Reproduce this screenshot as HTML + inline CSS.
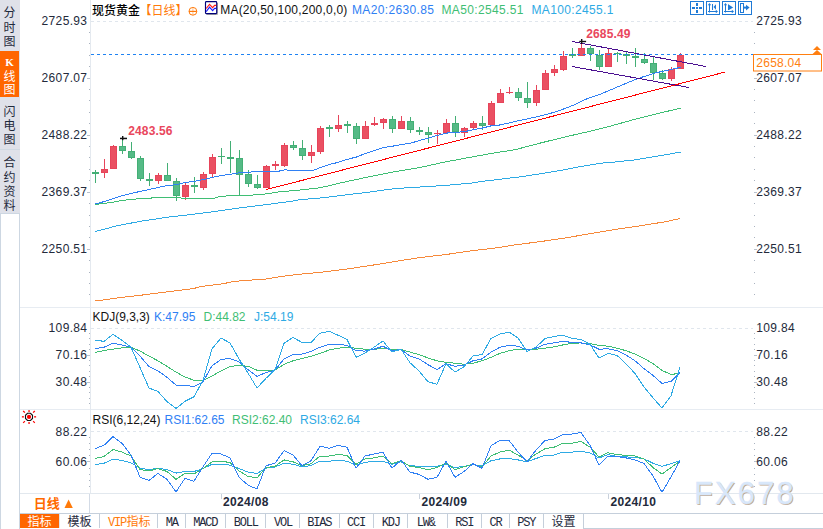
<!DOCTYPE html>
<html><head><meta charset="utf-8">
<style>
html,body{margin:0;padding:0;background:#fff;}
body{width:823px;height:529px;overflow:hidden;position:relative;}
svg{position:absolute;left:0;top:0;display:block;}
.cjk{font-family:"Liberation Sans","Noto Sans CJK SC",sans-serif;}
.mono{font-family:"Liberation Mono","Noto Sans CJK SC",monospace;}
</style></head><body>
<svg width="823" height="529" viewBox="0 0 823 529" font-family="Liberation Sans, Noto Sans CJK SC, sans-serif" font-size="12">
<!-- sidebar -->
<rect x="0" y="0" width="20" height="213" fill="#dfe1e9"/>
<rect x="0" y="51" width="19" height="46" fill="#ff6600"/>
<rect x="0" y="149" width="20" height="1" fill="#d0d9e2"/>
<rect x="0" y="213" width="20" height="1" fill="#cdd7e2"/>
<rect x="0" y="213" width="1" height="316" fill="#cdd7e2"/>
<rect x="19" y="213" width="1" height="316" fill="#cdd7e2"/>
<g class="cjk" font-size="12" fill="#1f2a3c" text-anchor="middle">
<text x="9.5" y="17.2">分</text><text x="9.5" y="31.8">时</text><text x="9.5" y="46.3">图</text>
<text x="9.5" y="65.6" fill="#fff" font-family="Liberation Serif" font-size="11" font-weight="bold">K</text><text x="9.5" y="80.6" fill="#fff">线</text><text x="9.5" y="94.3" fill="#fff">图</text>
<text x="9.5" y="115.5">闪</text><text x="9.5" y="129.5">电</text><text x="9.5" y="143.9">图</text>
<text x="9.5" y="167">合</text><text x="9.5" y="181.5">约</text><text x="9.5" y="195.8">资</text><text x="9.5" y="210">料</text>
</g>

<!-- panel frames -->
<rect x="20" y="307" width="803" height="1" fill="#e7ecf2"/>
<rect x="20" y="409" width="803" height="1" fill="#e7ecf2"/>
<rect x="90" y="0" width="1" height="493" fill="#e4e9ef"/>
<rect x="20" y="493" width="803" height="1" fill="#e2e8ee"/>

<!-- grid -->
<g stroke="#e0e6ed" stroke-width="1" stroke-dasharray="3,3">
<line x1="91" y1="21.5" x2="753" y2="21.5"/>
<line x1="91" y1="328.5" x2="753" y2="328.5"/>
<line x1="91" y1="431.5" x2="753" y2="431.5"/>
</g>

<!-- ticks -->
<g>
<rect x="89" y="32" width="1" height="1" fill="#aab3c0"/>
<rect x="754" y="32" width="1" height="1" fill="#aab3c0"/>
<rect x="89" y="43" width="1" height="1" fill="#aab3c0"/>
<rect x="754" y="43" width="1" height="1" fill="#aab3c0"/>
<rect x="89" y="55" width="1" height="1" fill="#aab3c0"/>
<rect x="754" y="55" width="1" height="1" fill="#aab3c0"/>
<rect x="89" y="66" width="1" height="1" fill="#aab3c0"/>
<rect x="754" y="66" width="1" height="1" fill="#aab3c0"/>
<rect x="87" y="78" width="3" height="1" fill="#b9c1cd"/>
<rect x="754" y="78" width="3" height="1" fill="#b9c1cd"/>
<rect x="89" y="89" width="1" height="1" fill="#aab3c0"/>
<rect x="754" y="89" width="1" height="1" fill="#aab3c0"/>
<rect x="89" y="100" width="1" height="1" fill="#aab3c0"/>
<rect x="754" y="100" width="1" height="1" fill="#aab3c0"/>
<rect x="89" y="112" width="1" height="1" fill="#aab3c0"/>
<rect x="754" y="112" width="1" height="1" fill="#aab3c0"/>
<rect x="89" y="123" width="1" height="1" fill="#aab3c0"/>
<rect x="754" y="123" width="1" height="1" fill="#aab3c0"/>
<rect x="87" y="135" width="3" height="1" fill="#b9c1cd"/>
<rect x="754" y="135" width="3" height="1" fill="#b9c1cd"/>
<rect x="89" y="146" width="1" height="1" fill="#aab3c0"/>
<rect x="754" y="146" width="1" height="1" fill="#aab3c0"/>
<rect x="89" y="157" width="1" height="1" fill="#aab3c0"/>
<rect x="754" y="157" width="1" height="1" fill="#aab3c0"/>
<rect x="89" y="169" width="1" height="1" fill="#aab3c0"/>
<rect x="754" y="169" width="1" height="1" fill="#aab3c0"/>
<rect x="89" y="180" width="1" height="1" fill="#aab3c0"/>
<rect x="754" y="180" width="1" height="1" fill="#aab3c0"/>
<rect x="87" y="192" width="3" height="1" fill="#b9c1cd"/>
<rect x="754" y="192" width="3" height="1" fill="#b9c1cd"/>
<rect x="89" y="203" width="1" height="1" fill="#aab3c0"/>
<rect x="754" y="203" width="1" height="1" fill="#aab3c0"/>
<rect x="89" y="215" width="1" height="1" fill="#aab3c0"/>
<rect x="754" y="215" width="1" height="1" fill="#aab3c0"/>
<rect x="89" y="226" width="1" height="1" fill="#aab3c0"/>
<rect x="754" y="226" width="1" height="1" fill="#aab3c0"/>
<rect x="89" y="237" width="1" height="1" fill="#aab3c0"/>
<rect x="754" y="237" width="1" height="1" fill="#aab3c0"/>
<rect x="87" y="249" width="3" height="1" fill="#b9c1cd"/>
<rect x="754" y="249" width="3" height="1" fill="#b9c1cd"/>
<rect x="89" y="260" width="1" height="1" fill="#aab3c0"/>
<rect x="754" y="260" width="1" height="1" fill="#aab3c0"/>
<rect x="89" y="272" width="1" height="1" fill="#aab3c0"/>
<rect x="754" y="272" width="1" height="1" fill="#aab3c0"/>
<rect x="89" y="283" width="1" height="1" fill="#aab3c0"/>
<rect x="754" y="283" width="1" height="1" fill="#aab3c0"/>
<rect x="89" y="294" width="1" height="1" fill="#aab3c0"/>
<rect x="754" y="294" width="1" height="1" fill="#aab3c0"/>
<rect x="89" y="333" width="1" height="1" fill="#aab3c0"/>
<rect x="754" y="333" width="1" height="1" fill="#aab3c0"/>
<rect x="89" y="338" width="1" height="1" fill="#aab3c0"/>
<rect x="754" y="338" width="1" height="1" fill="#aab3c0"/>
<rect x="89" y="344" width="1" height="1" fill="#aab3c0"/>
<rect x="754" y="344" width="1" height="1" fill="#aab3c0"/>
<rect x="89" y="349" width="1" height="1" fill="#aab3c0"/>
<rect x="754" y="349" width="1" height="1" fill="#aab3c0"/>
<rect x="87" y="355" width="3" height="1" fill="#b9c1cd"/>
<rect x="754" y="355" width="3" height="1" fill="#b9c1cd"/>
<rect x="89" y="360" width="1" height="1" fill="#aab3c0"/>
<rect x="754" y="360" width="1" height="1" fill="#aab3c0"/>
<rect x="89" y="365" width="1" height="1" fill="#aab3c0"/>
<rect x="754" y="365" width="1" height="1" fill="#aab3c0"/>
<rect x="89" y="371" width="1" height="1" fill="#aab3c0"/>
<rect x="754" y="371" width="1" height="1" fill="#aab3c0"/>
<rect x="89" y="376" width="1" height="1" fill="#aab3c0"/>
<rect x="754" y="376" width="1" height="1" fill="#aab3c0"/>
<rect x="87" y="382" width="3" height="1" fill="#b9c1cd"/>
<rect x="754" y="382" width="3" height="1" fill="#b9c1cd"/>
<rect x="89" y="387" width="1" height="1" fill="#aab3c0"/>
<rect x="754" y="387" width="1" height="1" fill="#aab3c0"/>
<rect x="89" y="392" width="1" height="1" fill="#aab3c0"/>
<rect x="754" y="392" width="1" height="1" fill="#aab3c0"/>
<rect x="89" y="398" width="1" height="1" fill="#aab3c0"/>
<rect x="754" y="398" width="1" height="1" fill="#aab3c0"/>
<rect x="89" y="403" width="1" height="1" fill="#aab3c0"/>
<rect x="754" y="403" width="1" height="1" fill="#aab3c0"/>
<rect x="89" y="437" width="1" height="1" fill="#aab3c0"/>
<rect x="754" y="437" width="1" height="1" fill="#aab3c0"/>
<rect x="89" y="443" width="1" height="1" fill="#aab3c0"/>
<rect x="754" y="443" width="1" height="1" fill="#aab3c0"/>
<rect x="89" y="449" width="1" height="1" fill="#aab3c0"/>
<rect x="754" y="449" width="1" height="1" fill="#aab3c0"/>
<rect x="89" y="455" width="1" height="1" fill="#aab3c0"/>
<rect x="754" y="455" width="1" height="1" fill="#aab3c0"/>
<rect x="87" y="461" width="3" height="1" fill="#b9c1cd"/>
<rect x="754" y="461" width="3" height="1" fill="#b9c1cd"/>
<rect x="89" y="468" width="1" height="1" fill="#aab3c0"/>
<rect x="754" y="468" width="1" height="1" fill="#aab3c0"/>
<rect x="89" y="474" width="1" height="1" fill="#aab3c0"/>
<rect x="754" y="474" width="1" height="1" fill="#aab3c0"/>
<rect x="89" y="480" width="1" height="1" fill="#aab3c0"/>
<rect x="754" y="480" width="1" height="1" fill="#aab3c0"/>
<rect x="89" y="486" width="1" height="1" fill="#aab3c0"/>
<rect x="754" y="486" width="1" height="1" fill="#aab3c0"/>
</g>
<g fill="#232a3b" font-size="12" letter-spacing="0.35">
<text x="87.4" y="25.3" text-anchor="end" fill="#232a3b">2725.93</text>
<text x="756.2" y="25.3" text-anchor="start" fill="#232a3b">2725.93</text>
<text x="87.4" y="82.3" text-anchor="end" fill="#232a3b">2607.07</text>
<text x="756.2" y="82.3" text-anchor="start" fill="#232a3b">2607.07</text>
<text x="87.4" y="139.3" text-anchor="end" fill="#232a3b">2488.22</text>
<text x="756.2" y="139.3" text-anchor="start" fill="#232a3b">2488.22</text>
<text x="87.4" y="196.3" text-anchor="end" fill="#232a3b">2369.37</text>
<text x="756.2" y="196.3" text-anchor="start" fill="#232a3b">2369.37</text>
<text x="87.4" y="253.3" text-anchor="end" fill="#232a3b">2250.51</text>
<text x="756.2" y="253.3" text-anchor="start" fill="#232a3b">2250.51</text>
<text x="87.4" y="332.3" text-anchor="end" fill="#232a3b">109.84</text>
<text x="756.2" y="332.3" text-anchor="start" fill="#232a3b">109.84</text>
<text x="87.4" y="359.3" text-anchor="end" fill="#232a3b">70.16</text>
<text x="756.2" y="359.3" text-anchor="start" fill="#232a3b">70.16</text>
<text x="87.4" y="386.3" text-anchor="end" fill="#232a3b">30.48</text>
<text x="756.2" y="386.3" text-anchor="start" fill="#232a3b">30.48</text>
<text x="87.4" y="435.8" text-anchor="end" fill="#232a3b">88.22</text>
<text x="756.2" y="435.8" text-anchor="start" fill="#232a3b">88.22</text>
<text x="87.4" y="466.3" text-anchor="end" fill="#232a3b">60.06</text>
<text x="756.2" y="466.3" text-anchor="start" fill="#232a3b">60.06</text>
</g>

<!-- candles -->
<g>
<rect x="95" y="170" width="1" height="13" fill="#43af75"/>
<rect x="92" y="172" width="7" height="2" fill="#43af75"/>
<rect x="104" y="159" width="1" height="19" fill="#e7445a"/>
<rect x="101.5" y="169.5" width="6" height="3" fill="#ea5062" stroke="#e7445a" stroke-width="1"/>
<rect x="113" y="145" width="1" height="24" fill="#e7445a"/>
<rect x="110.5" y="146.5" width="6" height="22" fill="#ea5062" stroke="#e7445a" stroke-width="1"/>
<rect x="122" y="139" width="1" height="15" fill="#43af75"/>
<rect x="119.5" y="146.5" width="6" height="4" fill="#55ba86" stroke="#43af75" stroke-width="1"/>
<rect x="131" y="142" width="1" height="17" fill="#43af75"/>
<rect x="128.5" y="151.5" width="6" height="6" fill="#55ba86" stroke="#43af75" stroke-width="1"/>
<rect x="140" y="156" width="1" height="25" fill="#43af75"/>
<rect x="137.5" y="158.5" width="6" height="20" fill="#55ba86" stroke="#43af75" stroke-width="1"/>
<rect x="149" y="173" width="1" height="13" fill="#43af75"/>
<rect x="146" y="179" width="7" height="2" fill="#43af75"/>
<rect x="158" y="173" width="1" height="11" fill="#e7445a"/>
<rect x="155.5" y="175.5" width="6" height="5" fill="#ea5062" stroke="#e7445a" stroke-width="1"/>
<rect x="167" y="163" width="1" height="18" fill="#43af75"/>
<rect x="164.5" y="175.5" width="6" height="5" fill="#55ba86" stroke="#43af75" stroke-width="1"/>
<rect x="176" y="178" width="1" height="23" fill="#43af75"/>
<rect x="173.5" y="181.5" width="6" height="14" fill="#55ba86" stroke="#43af75" stroke-width="1"/>
<rect x="185" y="183" width="1" height="17" fill="#e7445a"/>
<rect x="182.5" y="185.5" width="6" height="11" fill="#ea5062" stroke="#e7445a" stroke-width="1"/>
<rect x="194" y="177" width="1" height="16" fill="#43af75"/>
<rect x="191" y="185" width="7" height="2" fill="#43af75"/>
<rect x="203" y="172" width="1" height="18" fill="#e7445a"/>
<rect x="200.5" y="174.5" width="6" height="13" fill="#ea5062" stroke="#e7445a" stroke-width="1"/>
<rect x="212" y="154" width="1" height="23" fill="#e7445a"/>
<rect x="209.5" y="157.5" width="6" height="16" fill="#ea5062" stroke="#e7445a" stroke-width="1"/>
<rect x="221" y="148" width="1" height="16" fill="#43af75"/>
<rect x="218" y="156" width="7" height="1" fill="#43af75"/>
<rect x="230" y="141" width="1" height="32" fill="#43af75"/>
<rect x="227" y="157" width="7" height="2" fill="#43af75"/>
<rect x="239" y="150" width="1" height="45" fill="#43af75"/>
<rect x="236.5" y="158.5" width="6" height="16" fill="#55ba86" stroke="#43af75" stroke-width="1"/>
<rect x="248" y="170" width="1" height="17" fill="#43af75"/>
<rect x="245.5" y="174.5" width="6" height="9" fill="#55ba86" stroke="#43af75" stroke-width="1"/>
<rect x="257" y="175" width="1" height="14" fill="#43af75"/>
<rect x="254.5" y="184.5" width="6" height="3" fill="#55ba86" stroke="#43af75" stroke-width="1"/>
<rect x="266" y="165" width="1" height="23" fill="#e7445a"/>
<rect x="263.5" y="166.5" width="6" height="21" fill="#ea5062" stroke="#e7445a" stroke-width="1"/>
<rect x="275" y="161" width="1" height="9" fill="#e7445a"/>
<rect x="272" y="164" width="7" height="2" fill="#e7445a"/>
<rect x="284" y="143" width="1" height="24" fill="#e7445a"/>
<rect x="281.5" y="145.5" width="6" height="20" fill="#ea5062" stroke="#e7445a" stroke-width="1"/>
<rect x="293" y="141" width="1" height="9" fill="#43af75"/>
<rect x="290.5" y="145.5" width="6" height="2" fill="#55ba86" stroke="#43af75" stroke-width="1"/>
<rect x="302" y="140" width="1" height="20" fill="#43af75"/>
<rect x="299.5" y="148.5" width="6" height="7" fill="#55ba86" stroke="#43af75" stroke-width="1"/>
<rect x="311" y="145" width="1" height="18" fill="#e7445a"/>
<rect x="308.5" y="152.5" width="6" height="3" fill="#ea5062" stroke="#e7445a" stroke-width="1"/>
<rect x="320" y="126" width="1" height="28" fill="#e7445a"/>
<rect x="317.5" y="128.5" width="6" height="23" fill="#ea5062" stroke="#e7445a" stroke-width="1"/>
<rect x="329" y="125" width="1" height="12" fill="#43af75"/>
<rect x="326" y="127" width="7" height="2" fill="#43af75"/>
<rect x="338" y="115" width="1" height="17" fill="#e7445a"/>
<rect x="335.5" y="125.5" width="6" height="3" fill="#ea5062" stroke="#e7445a" stroke-width="1"/>
<rect x="347" y="121" width="1" height="12" fill="#43af75"/>
<rect x="344" y="124" width="7" height="2" fill="#43af75"/>
<rect x="356" y="123" width="1" height="21" fill="#43af75"/>
<rect x="353.5" y="126.5" width="6" height="12" fill="#55ba86" stroke="#43af75" stroke-width="1"/>
<rect x="365" y="121" width="1" height="18" fill="#e7445a"/>
<rect x="362.5" y="126.5" width="6" height="12" fill="#ea5062" stroke="#e7445a" stroke-width="1"/>
<rect x="374" y="117" width="1" height="9" fill="#e7445a"/>
<rect x="371" y="123" width="7" height="2" fill="#e7445a"/>
<rect x="383" y="118" width="1" height="11" fill="#e7445a"/>
<rect x="380.5" y="119.5" width="6" height="3" fill="#ea5062" stroke="#e7445a" stroke-width="1"/>
<rect x="392" y="116" width="1" height="17" fill="#43af75"/>
<rect x="389.5" y="119.5" width="6" height="9" fill="#55ba86" stroke="#43af75" stroke-width="1"/>
<rect x="401" y="116" width="1" height="13" fill="#e7445a"/>
<rect x="398.5" y="121.5" width="6" height="7" fill="#ea5062" stroke="#e7445a" stroke-width="1"/>
<rect x="410" y="117" width="1" height="16" fill="#43af75"/>
<rect x="407.5" y="121.5" width="6" height="8" fill="#55ba86" stroke="#43af75" stroke-width="1"/>
<rect x="419" y="127" width="1" height="8" fill="#43af75"/>
<rect x="416" y="130" width="7" height="2" fill="#43af75"/>
<rect x="428" y="127" width="1" height="16" fill="#43af75"/>
<rect x="425.5" y="132.5" width="6" height="2" fill="#55ba86" stroke="#43af75" stroke-width="1"/>
<rect x="437" y="130" width="1" height="14" fill="#e7445a"/>
<rect x="434" y="133" width="7" height="1" fill="#e7445a"/>
<rect x="446" y="119" width="1" height="14" fill="#e7445a"/>
<rect x="443.5" y="123.5" width="6" height="9" fill="#ea5062" stroke="#e7445a" stroke-width="1"/>
<rect x="455" y="116" width="1" height="21" fill="#43af75"/>
<rect x="452.5" y="123.5" width="6" height="8" fill="#55ba86" stroke="#43af75" stroke-width="1"/>
<rect x="464" y="127" width="1" height="10" fill="#e7445a"/>
<rect x="461.5" y="128.5" width="6" height="4" fill="#ea5062" stroke="#e7445a" stroke-width="1"/>
<rect x="473" y="121" width="1" height="8" fill="#e7445a"/>
<rect x="470.5" y="123.5" width="6" height="4" fill="#ea5062" stroke="#e7445a" stroke-width="1"/>
<rect x="482" y="116" width="1" height="14" fill="#43af75"/>
<rect x="479.5" y="123.5" width="6" height="2" fill="#55ba86" stroke="#43af75" stroke-width="1"/>
<rect x="491" y="101" width="1" height="24" fill="#e7445a"/>
<rect x="488.5" y="103.5" width="6" height="21" fill="#ea5062" stroke="#e7445a" stroke-width="1"/>
<rect x="500" y="89" width="1" height="14" fill="#e7445a"/>
<rect x="497.5" y="93.5" width="6" height="9" fill="#ea5062" stroke="#e7445a" stroke-width="1"/>
<rect x="509" y="87" width="1" height="7" fill="#e7445a"/>
<rect x="506" y="92" width="7" height="1" fill="#e7445a"/>
<rect x="518" y="88" width="1" height="13" fill="#43af75"/>
<rect x="515.5" y="92.5" width="6" height="5" fill="#55ba86" stroke="#43af75" stroke-width="1"/>
<rect x="527" y="82" width="1" height="26" fill="#43af75"/>
<rect x="524.5" y="98.5" width="6" height="4" fill="#55ba86" stroke="#43af75" stroke-width="1"/>
<rect x="536" y="85" width="1" height="21" fill="#e7445a"/>
<rect x="533.5" y="90.5" width="6" height="12" fill="#ea5062" stroke="#e7445a" stroke-width="1"/>
<rect x="545" y="70" width="1" height="20" fill="#e7445a"/>
<rect x="542.5" y="73.5" width="6" height="16" fill="#ea5062" stroke="#e7445a" stroke-width="1"/>
<rect x="554" y="65" width="1" height="11" fill="#e7445a"/>
<rect x="551.5" y="69.5" width="6" height="3" fill="#ea5062" stroke="#e7445a" stroke-width="1"/>
<rect x="563" y="51" width="1" height="20" fill="#e7445a"/>
<rect x="560.5" y="56.5" width="6" height="13" fill="#ea5062" stroke="#e7445a" stroke-width="1"/>
<rect x="572" y="48" width="1" height="10" fill="#43af75"/>
<rect x="569" y="54" width="7" height="2" fill="#43af75"/>
<rect x="581" y="41" width="1" height="15" fill="#e7445a"/>
<rect x="578.5" y="48.5" width="6" height="7" fill="#ea5062" stroke="#e7445a" stroke-width="1"/>
<rect x="590" y="46" width="1" height="15" fill="#43af75"/>
<rect x="587.5" y="48.5" width="6" height="5" fill="#55ba86" stroke="#43af75" stroke-width="1"/>
<rect x="599" y="50" width="1" height="20" fill="#43af75"/>
<rect x="596.5" y="55.5" width="6" height="11" fill="#55ba86" stroke="#43af75" stroke-width="1"/>
<rect x="608" y="48" width="1" height="19" fill="#e7445a"/>
<rect x="605.5" y="53.5" width="6" height="13" fill="#ea5062" stroke="#e7445a" stroke-width="1"/>
<rect x="617" y="52" width="1" height="10" fill="#43af75"/>
<rect x="614" y="53" width="7" height="1" fill="#43af75"/>
<rect x="626" y="51" width="1" height="13" fill="#43af75"/>
<rect x="623" y="54" width="7" height="2" fill="#43af75"/>
<rect x="635" y="48" width="1" height="19" fill="#43af75"/>
<rect x="632" y="56" width="7" height="2" fill="#43af75"/>
<rect x="644" y="53" width="1" height="11" fill="#43af75"/>
<rect x="641.5" y="59.5" width="6" height="3" fill="#55ba86" stroke="#43af75" stroke-width="1"/>
<rect x="653" y="57" width="1" height="23" fill="#43af75"/>
<rect x="650.5" y="63.5" width="6" height="9" fill="#55ba86" stroke="#43af75" stroke-width="1"/>
<rect x="662" y="70" width="1" height="10" fill="#43af75"/>
<rect x="659.5" y="73.5" width="6" height="5" fill="#55ba86" stroke="#43af75" stroke-width="1"/>
<rect x="671" y="67" width="1" height="14" fill="#e7445a"/>
<rect x="668.5" y="69.5" width="6" height="9" fill="#ea5062" stroke="#e7445a" stroke-width="1"/>
<rect x="680" y="53" width="1" height="16" fill="#e7445a"/>
<rect x="677.5" y="55.5" width="6" height="13" fill="#ea5062" stroke="#e7445a" stroke-width="1"/>
</g>
<g fill="none" stroke-width="1" shape-rendering="crispEdges">
<polyline points="95.5,203.8 104.5,201.5 113.5,198.5 122.5,195.5 131.5,193.4 140.5,191.3 149.5,189.4 158.5,187.4 167.5,185.5 176.5,184.7 185.5,182.5 194.5,181.3 203.5,179.6 212.5,177.4 221.5,175.5 228.5,174.5 239.5,172.8 248.5,172.6 253.5,171.5 277.5,171.5 284.5,169.8 290.5,170.4 300.5,170.4 313.3,170.4 320.5,167.4 329.5,164.4 338.5,162.3 347.5,159.3 356.5,157 365.5,153.4 374.5,150.5 383.5,147.6 392.5,146.2 401.5,144.5 410.5,143.2 419.5,140.5 428.5,138.1 437.5,135.3 446.5,133.1 455.5,132.3 464.5,131.7 473.5,129.6 482.5,128 490.5,126 500.5,124.9 515.5,121.4 530.5,118.2 545.5,114.7 557.5,111.3 572.5,105.6 587.5,98.5 600.5,94.1 630.5,81.5 640.5,77.7 653.5,73.4 662.5,71.3 671.5,69.4 680.5,67.3" stroke="#2f80f4"/>
</g>
<!-- MA lines -->
<g fill="none" stroke-width="1" shape-rendering="crispEdges">
<polyline points="95.5,301 118.5,297.8 143.5,294.9 168.5,291.7 193.5,288.6 200.5,286.5 208.5,285.6 217.5,284.4 225.5,283.4 228.5,282.3 235.5,281.4 244.5,280.4 262.5,279.5 270.5,278.3 280.5,276.5 290.5,275.3 298.5,274.3 320.5,272.3 345.5,269.2 370.5,265.5 395.5,261.4 420.5,257.5 445.5,254.6 470.5,250.9 495.5,248 515.5,244.8 540.5,241.6 565.5,237.9 590.5,233.6 615.5,229.4 640.5,225.8 665.5,221.7 680.5,218.5" stroke="#f6893a"/>
<polyline points="95.5,231.5 118.5,225.4 143.5,220.8 168.5,217.1 193.5,214.2 215.5,211.4 240.5,207.8 265.5,204.7 290.5,201.4 300.5,199.6 320.5,198 345.5,195 370.5,191.9 395.5,188.5 420.5,187 445.5,185.4 470.5,183.2 480.5,181.6 500.5,179.2 520.5,176.8 540.5,173.8 560.5,170.5 580.5,166.6 600.5,163.2 610.5,162.5 635.5,159.8 660.5,155.6 680.5,152.1" stroke="#2eaae4"/>
<polyline points="95.5,204.5 104.5,203.3 113.5,202.1 122.5,200.4 131.5,199.5 140.5,198.5 149.5,198.3 155.5,197.4 180.5,197.4 181.5,198.3 214.5,198.3 220.5,196.3 240.5,195.3 253.5,195 265.5,194 280.5,191.6 290.5,190.9 298.5,190.2 320.5,187.7 345.5,181.8 370.5,176.5 395.5,171.6 420.5,167.4 445.5,161.9 470.5,157.2 490.5,153.6 515.5,149.6 540.5,143 565.5,136.8 585.5,132.3 610.5,126.1 635.5,119.1 660.5,112.9 680.5,108.2" stroke="#3fbe74"/>
</g>
<!-- trend lines -->
<line x1="266" y1="189.6" x2="724.6" y2="72.2" stroke="#ff0000" stroke-width="1" shape-rendering="crispEdges"/>
<line x1="572" y1="41.5" x2="706" y2="66.5" stroke="#4a0f90" stroke-width="1" shape-rendering="crispEdges"/>
<line x1="572" y1="66.5" x2="689" y2="87.5" stroke="#4a0f90" stroke-width="1" shape-rendering="crispEdges"/>
<!-- current price line -->
<line x1="91" y1="54.5" x2="753" y2="54.5" stroke="#1e82f2" stroke-width="1.2" stroke-dasharray="3,3"/>

<!-- markers -->
<rect x="120" y="137.7" width="7" height="1.5" fill="#111"/>
<rect x="122" y="136" width="1.4" height="4.2" fill="#111"/>
<text x="128.2" y="135" font-weight="bold" fill="#e9475d" letter-spacing="0.15">2483.56</text>
<rect x="579.3" y="40.8" width="6.8" height="1.4" fill="#111"/>
<rect x="581" y="39" width="1.4" height="5" fill="#111"/>
<text x="586.2" y="38" font-weight="bold" fill="#e9475d" letter-spacing="0.15">2685.49</text>

<!-- header -->
<text x="92" y="15" class="cjk" fill="#000" font-weight="500">现货黄金</text>
<text x="139.5" y="15" class="cjk" fill="#ff7a0a">【日线】</text>
<g stroke="#ff7a0a" fill="none" stroke-width="1"><circle cx="192.9" cy="11.3" r="3.9"/><line x1="189" y1="11.4" x2="196.8" y2="11.4" stroke-width="1.2"/><line x1="192.9" y1="7.4" x2="192.9" y2="15.2" stroke-opacity="0.45"/></g>
<g>
<rect x="206.5" y="14" width="11" height="1" fill="#b0b0a8"/>
<rect x="217" y="3" width="1" height="11.5" fill="#b0b0a8"/>
<rect x="205.5" y="1.6" width="11.2" height="12" rx="0.8" fill="#fff" stroke="#00007a" stroke-width="1.15"/>
<polyline points="206.2,8.5 209.5,4.3 212.6,7.7 214.6,5.3 216.2,5.3" fill="none" stroke="#ff1a1a" stroke-width="1.15"/>
<polyline points="206.2,11.7 209.5,7.2 212.6,10.7 214.6,8.3 216.2,8.3" fill="none" stroke="#1a1aff" stroke-width="1.15"/>
</g>
<text x="220.2" y="14" fill="#111" letter-spacing="0.22">MA(20,50,100,200,0,0)</text>
<text x="352" y="14" fill="#2f80f4" letter-spacing="0.35">MA20:2630.85</text>
<text x="441.5" y="14" fill="#3fbe74" letter-spacing="0.35">MA50:2545.51</text>
<text x="531.5" y="14" fill="#2eaae4" letter-spacing="0.35">MA100:2455.1</text>

<!-- toolbar icons -->
<g fill="none" stroke="#1f7ad6" stroke-width="1">
<rect x="690.5" y="1.5" width="13" height="13"/>
<rect x="706.5" y="1.5" width="13" height="13"/>
<rect x="722.5" y="1.5" width="13" height="13"/>
<rect x="738.5" y="1.5" width="13" height="13"/>
</g>
<g fill="#1f7ad6">
<rect x="692" y="7" width="3" height="2"/><rect x="699" y="7" width="3" height="2"/>
<rect x="696" y="3" width="2" height="3"/><rect x="696" y="10" width="2" height="3"/>
<rect x="696" y="7" width="2" height="2"/>
</g>
<g stroke="#1f7ad6" stroke-width="1" fill="none">
<line x1="709.5" y1="4" x2="709.5" y2="12.5"/><line x1="708" y1="11.5" x2="717" y2="11.5"/>
<line x1="712.5" y1="4" x2="712.5" y2="10"/>
<line x1="725.5" y1="4" x2="725.5" y2="12.5"/><line x1="724" y1="11.5" x2="733" y2="11.5"/>
<line x1="728.5" y1="4.5" x2="728.5" y2="10"/>
<rect x="740.5" y="3.5" width="3" height="9"/>
</g>
<g fill="#1f7ad6">
<path d="M709.5 3 L711.2 5.2 L707.8 5.2 Z M718 11.5 L715.8 9.8 L715.8 13.2 Z"/>
<path d="M713.5 7 L716 4.3 L716 9.7 Z"/>
<path d="M725.5 3 L727.2 5.2 L723.8 5.2 Z M734 11.5 L731.8 9.8 L731.8 13.2 Z"/>
<path d="M728.5 4.6 L733.2 7.4 L728.5 10.3 Z"/>
<rect x="743" y="6.6" width="4" height="2"/>
<path d="M746 4.8 L749.6 7.6 L746 10.4 Z"/>
</g>

<!-- price tag -->
<rect x="753.5" y="54.5" width="68" height="16.5" fill="#fff" stroke="#ff7f10" stroke-width="1"/>
<text x="756.3" y="67" fill="#ff7f10" letter-spacing="0.25">2658.04</text>
<path d="M817 46 L821 50 L813 50 Z M817 50 L822 54.5 L812 54.5 Z" fill="#ff7f10"/>

<!-- KDJ -->
<text x="92.5" y="321" fill="#111">KDJ(9,3,3)</text>
<text x="154" y="321" fill="#2f80f4">K:47.95</text>
<text x="203.5" y="321" fill="#3fbe74">D:44.82</text>
<text x="254" y="321" fill="#2eaae4">J:54.19</text>
<g fill="none" stroke-width="1" shape-rendering="crispEdges">
<polyline points="95,352.5 104,350.5 113,349.2 122,347.8 131,347.2 140,351.1 149,356 158,360.8 167,366.3 176,372.1 185,377 194,380.3 203,380.3 212,376 221,370.9 230,366.7 239,365.3 248,366.3 257,370.2 266,370.5 275,370.2 284,364.3 293,360.8 302,358.5 311,356.4 320,353.4 329,350.1 338,348.2 347,347.2 356,348.2 365,349.2 374,349.5 383,348.2 392,349.2 401,349.5 410,352.1 419,354.6 428,357.9 437,360.8 446,362.4 455,363.2 464,364.3 473,363.2 482,360.8 491,357.3 500,353.4 509,350.7 518,349.2 527,349.5 536,349.2 545,348.2 554,346.8 563,344.9 572,343.3 581,342.9 590,343.7 599,345.3 608,346.2 617,348.2 626,350.7 635,354 644,358.5 653,363.5 662,370.5 671,374.4 680,373.4" stroke="#3fbe74"/>
<polyline points="95,348.6 104,347.2 113,343.3 122,344.9 131,347.2 140,356 149,366.7 158,370.9 167,377.3 176,385.1 185,385.5 194,386.5 203,381.8 212,365.7 221,359.5 230,358.5 239,361.8 248,369.6 257,376.4 266,372.5 275,370.2 284,358.9 293,354.6 302,354 311,351.5 320,347.2 329,344.3 338,344.3 347,345.3 356,350.7 365,351.1 374,349.2 383,346.2 392,350.7 401,349.5 410,356 419,358.9 428,364.7 437,369.6 446,363.7 455,366.3 464,365.1 473,360.8 482,358.9 491,352.1 500,347.2 509,345.3 518,346.2 527,350.1 536,348.2 545,344.3 554,342.9 563,341.4 572,342.4 581,342.9 590,344.9 599,349.2 608,348.8 617,350.7 626,355 635,360.8 644,368.6 653,375.4 662,383.4 671,381.4 680,372.5" stroke="#2f80f4"/>
<polyline points="95,340 104,341.4 113,334.2 122,340.4 131,347.2 140,367.6 149,388 158,391.5 167,401.6 176,408.5 185,401.3 194,396.8 203,380.3 212,348.8 221,338.1 230,342.9 239,358.9 248,373 257,388 266,378.3 275,369.6 284,343.3 293,337.5 302,342.4 311,342.4 320,333.2 329,331.3 338,335.2 347,339.4 356,357.3 365,353 374,347.2 383,341 392,352.1 401,349.2 410,362.8 419,370.9 428,381.8 437,384.2 446,363.7 455,372.1 464,366.7 473,356 482,354.6 491,338.5 500,334 509,332.1 518,337.9 527,351.5 536,347.2 545,338.5 554,336.5 563,335.2 572,338.5 581,339.4 590,344.3 599,357.9 608,353.4 617,355.4 626,363.7 635,373.5 644,387.1 653,397.8 662,408 671,395.7 680,367.3" stroke="#2eaae4"/>
</g>

<!-- RSI -->
<text x="92.5" y="424" fill="#111">RSI(6,12,24)</text>
<text x="164.5" y="424" fill="#2f80f4">RSI1:62.65</text>
<text x="232" y="424" fill="#3fbe74">RSI2:62.40</text>
<text x="300" y="424" fill="#2eaae4">RSI3:62.64</text>
<g fill="none" stroke-width="1" shape-rendering="crispEdges">
<polyline points="95,464.7 104,463.2 113,459.3 122,460.4 131,462.8 140,468.2 149,469.6 158,468.2 167,469.6 176,473.1 185,471.5 194,471.5 203,468.6 212,464.3 221,464.3 230,465.1 239,468.6 248,472.1 257,473.5 266,468.2 275,467 284,463.2 293,464.3 302,466.7 311,465.7 320,461.2 329,461.2 338,460.4 347,461.2 356,465.1 365,462.4 374,461.2 383,461.2 392,464.3 401,461.8 410,465.7 419,466.3 428,466.7 437,466.3 446,464.3 455,467.6 464,466.3 473,464.7 482,465.7 491,460.8 500,458.9 509,458.5 518,459.9 527,461.8 536,458.5 545,455.4 554,455 563,452.1 572,452.1 581,451.1 590,453 599,457.9 608,454.6 617,456.5 626,456.9 635,457.3 644,458.9 653,463.2 662,466.3 671,463.7 680,460.8" stroke="#2eaae4"/>
<polyline points="95,458.5 104,456.5 113,449.5 122,452.1 131,456 140,469.6 149,470.9 158,468.6 167,471.5 176,479.3 185,473.5 194,474 203,468.6 212,461.8 221,461.4 230,462.4 239,470.9 248,476.4 257,477.9 266,467.6 275,466.3 284,459.9 293,461.8 302,465.7 311,463.7 320,456 329,456 338,454.6 347,455.4 356,464.3 365,458.9 374,457.9 383,456 392,463.7 401,460.8 410,466.3 419,467.6 428,469.6 437,467.6 446,463.2 455,469.6 464,466.7 473,464.3 482,466.7 491,456 500,452.1 509,450.1 518,455 527,460.8 536,454 545,448.7 554,447.2 563,443.3 572,443.3 581,441.4 590,447.2 599,456.9 608,452.7 617,454.6 626,455.4 635,456 644,458.9 653,467.6 662,474 671,467.6 680,461.2" stroke="#3fbe74"/>
<polyline points="95,448.6 104,445.3 113,436.5 122,443.3 131,455 140,477.3 149,480.3 158,473.5 167,479.3 176,491.9 185,478.3 194,481.2 203,466.7 212,453.4 221,454 230,457.9 239,477.3 248,485.1 257,489 266,465.7 275,463.2 284,450.7 293,455 302,465.7 311,460.8 320,446.2 329,448.2 338,445.3 347,447.2 356,468.2 365,456 374,454 383,452.1 392,468.2 401,459.9 410,472.1 419,474.4 428,479.3 437,477.3 446,461.2 455,477.3 464,471.5 473,463.7 482,468.2 491,445.7 500,440.4 509,440.4 518,452.1 527,461.8 536,450.1 545,440.5 554,439.1 563,434.6 572,434 581,432.6 590,445.3 599,465.1 608,456 617,456.5 626,457.9 635,459.9 644,463.5 653,476 662,492.3 671,476.8 680,460.8" stroke="#2f80f4"/>
</g>
<!-- sun icon -->
<g>
<polygon points="27.5,413.3 30.5,413.3 32.5,415.3 32.5,418.5 30.5,420.5 27.5,420.5 25.5,418.5 25.5,415.3" fill="#fff" stroke="#111" stroke-width="1.1"/>
<circle cx="29" cy="416.9" r="2.1" fill="#f00"/>
<g fill="#f00">
<rect x="28.4" y="410.1" width="1.3" height="2"/><rect x="28.4" y="422" width="1.3" height="2"/>
<rect x="21.9" y="416.2" width="2" height="1.3"/><rect x="34.1" y="416.2" width="2" height="1.3"/>
</g>
<g stroke="#f00" stroke-width="1.2">
<line x1="23.2" y1="411" x2="24.9" y2="412.7"/><line x1="34.8" y1="411" x2="33.1" y2="412.7"/>
<line x1="23.2" y1="422.9" x2="24.9" y2="421.2"/><line x1="34.8" y1="422.9" x2="33.1" y2="421.2"/>
</g>
</g>

<!-- date axis -->
<rect x="89" y="494" width="1" height="19" fill="#d3dbe6"/>
<text x="33.8" y="507.8" class="cjk" font-size="13" fill="#ff6a00" font-weight="bold">日线</text>
<path d="M68.6 499.6 L72.8 508 L64.5 508 Z" fill="#ff7a0a"/>
<g fill="#c9d1dc">
<rect x="221" y="494" width="1" height="5"/>
<rect x="419" y="494" width="1" height="5"/>
<rect x="608" y="494" width="1" height="5"/>
</g>
<g font-weight="bold" fill="#232a3b" letter-spacing="0.35">
<text x="223" y="506">2024/08</text>
<text x="421.5" y="506">2024/09</text>
<text x="610.5" y="506">2024/10</text>
</g>

<!-- watermark -->
<g font-size="30.5" letter-spacing="2.4">
<text x="695" y="504.8" fill="#b99c82" opacity="0.9">FX678</text>
<text x="694" y="503.8" fill="#d8e7fa" stroke="#d8e7fa" stroke-width="0.5">FX678</text>
</g>

<!-- tab bar -->
<rect x="20" y="513" width="803" height="1" fill="#c5cfdb"/>
<rect x="583" y="528" width="240" height="1" fill="#c5cfdb"/>
<rect x="20" y="514" width="39" height="14" fill="#ff6600"/>
<g fill="#c5cfdb">
<rect x="59" y="514" width="1" height="14" fill="#dfe5ec"/>
<rect x="99" y="514" width="1" height="14"/>
<rect x="157" y="514" width="1" height="14"/>
<rect x="185" y="514" width="1" height="14"/>
<rect x="225" y="514" width="1" height="14"/>
<rect x="265" y="514" width="1" height="14"/>
<rect x="299" y="514" width="1" height="14"/>
<rect x="339" y="514" width="1" height="14"/>
<rect x="373" y="514" width="1" height="14"/>
<rect x="407" y="514" width="1" height="14"/>
<rect x="447" y="514" width="1" height="14"/>
<rect x="481" y="514" width="1" height="14"/>
<rect x="509" y="514" width="1" height="14"/>
<rect x="543" y="514" width="1" height="14"/>
<rect x="583" y="514" width="1" height="14"/>
</g>
<g class="cjk" font-size="12" text-anchor="middle" fill="#1f2a3c">
<text x="39.5" y="526" fill="#fff">指标</text>
<text x="79.5" y="526">模板</text>
<text x="563.4" y="526">设置</text>
<text x="138.5" y="526" fill="#ff7a0a">指标</text>
</g>
<g class="mono" font-size="12" text-anchor="middle" fill="#1f2a3c" letter-spacing="-1.2">
<text x="117.1" y="525.6" fill="#ff7a0a">VIP</text>
<text x="171.8" y="525.6">MA</text>
<text x="205.2" y="525.6">MACD</text>
<text x="245.8" y="525.6">BOLL</text>
<text x="283.0" y="525.6">VOL</text>
<text x="319.3" y="525.6">BIAS</text>
<text x="355.9" y="525.6">CCI</text>
<text x="390.7" y="525.6">KDJ</text>
<text x="425.8" y="525.6">LW&amp;</text>
<text x="464.3" y="525.6">RSI</text>
<text x="495.6" y="525.6">CR</text>
<text x="526.2" y="525.6">PSY</text>
</g>
</svg>
</body></html>
